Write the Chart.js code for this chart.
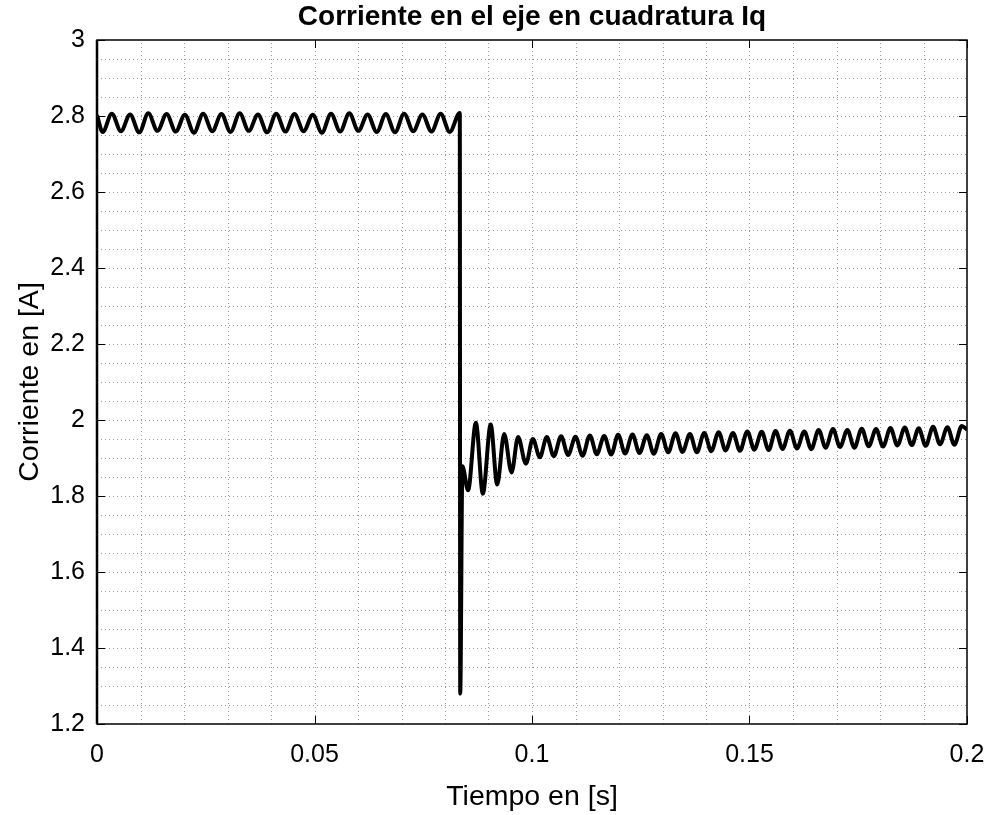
<!DOCTYPE html>
<html>
<head>
<meta charset="utf-8">
<script src="https://cdn.jsdelivr.net/npm/chart.js@4.4.0/dist/chart.umd.min.js"></script>
<style>
    body{margin:0;background:#fff;}
    #grafico{display:block;}
</style>
</head>
<body>
<canvas id="grafico" width="997" height="815"></canvas>
<script>
// régimen antes del escalón de carga
const tiempoAntes = [0, 0.0013, 0.0034, 0.0055, 0.0076, 0.0097, 0.0118, 0.0139, 0.0160, 0.0181, 0.0202,
    0.0223, 0.0244, 0.0265, 0.0286, 0.0307, 0.0328, 0.0349, 0.0370, 0.0391, 0.0412,
    0.0433, 0.0454, 0.0475, 0.0496, 0.0517, 0.0538, 0.0559, 0.0580, 0.0601, 0.0622,
    0.0643, 0.0664, 0.0685, 0.0706, 0.0727, 0.0748, 0.0769, 0.0790, 0.0811, 0.0834];
const corrienteAntes = [2.802, 2.758, 2.806, 2.760, 2.804, 2.757, 2.807, 2.761, 2.805, 2.759, 2.803,
    2.756, 2.806, 2.760, 2.805, 2.758, 2.807, 2.761, 2.804, 2.757, 2.806,
    2.759, 2.805, 2.760, 2.803, 2.756, 2.806, 2.759, 2.807, 2.761, 2.804,
    2.758, 2.805, 2.757, 2.806, 2.760, 2.804, 2.759, 2.806, 2.758, 2.808];

// caída y transitorio
const tiempoTransitorio = [0.0835, 0.0840, 0.0853, 0.0871, 0.0887, 0.0905, 0.0920, 0.0936, 0.0953, 0.0968, 0.0986, 0.1002, 0.1018];
const corrienteTransitorio = [1.28, 1.878, 1.815, 1.993, 1.806, 1.988, 1.830, 1.963, 1.862, 1.955, 1.885, 1.950, 1.902];

// nuevo régimen
const tiempoDespues = [0.1034, 0.1050, 0.1067, 0.1083, 0.1100, 0.1116, 0.1133, 0.1149, 0.1166, 0.1182,
    0.1198, 0.1214, 0.1231, 0.1247, 0.1264, 0.1280, 0.1297, 0.1313, 0.1330, 0.1346,
    0.1363, 0.1379, 0.1396, 0.1412, 0.1429, 0.1445, 0.1462, 0.1478, 0.1495, 0.1511,
    0.1528, 0.1544, 0.1560, 0.1576, 0.1593, 0.1609, 0.1626, 0.1642, 0.1659, 0.1675,
    0.1692, 0.1708, 0.1725, 0.1741, 0.1758, 0.1774, 0.1791, 0.1807, 0.1824, 0.1840,
    0.1857, 0.1873, 0.1889, 0.1905, 0.1922, 0.1938, 0.1955, 0.1971, 0.1988, 0.2000];
const corrienteDespues = [1.955, 1.905, 1.957, 1.908, 1.956, 1.906, 1.959, 1.910, 1.958, 1.909,
    1.961, 1.912, 1.962, 1.913, 1.960, 1.911, 1.963, 1.915, 1.965, 1.916,
    1.963, 1.915, 1.966, 1.918, 1.968, 1.920, 1.966, 1.919, 1.970, 1.922,
    1.969, 1.921, 1.971, 1.924, 1.972, 1.925, 1.970, 1.923, 1.974, 1.927,
    1.976, 1.929, 1.974, 1.927, 1.977, 1.931, 1.976, 1.930, 1.979, 1.933,
    1.980, 1.934, 1.978, 1.932, 1.982, 1.936, 1.981, 1.935, 1.984, 1.975];

const ticksX = [0, 0.05, 0.1, 0.15, 0.2];
const ticksY = [1.2, 1.4, 1.6, 1.8, 2, 2.2, 2.4, 2.6, 2.8, 3];

const fuente = '"Liberation Sans", Arial, Helvetica, sans-serif';

const tiempo = tiempoAntes.concat(tiempoTransitorio, tiempoDespues);
const corriente = corrienteAntes.concat(corrienteTransitorio, corrienteDespues);
const puntos = tiempo.map((t, i) => ({x: t, y: corriente[i]}));

// rejilla punteada, marco y marcas hacia dentro
const estiloMatlab = {
    id: 'estiloMatlab',
    beforeDatasetsDraw(chart){
        const {ctx, chartArea, scales} = chart;
        const {left, right, top, bottom} = chartArea;
        ctx.save();
        ctx.lineWidth = 1;
        ctx.strokeStyle = '#9a9a9a';
        ctx.setLineDash([1, 3]);
        for(let i = 1; i < 20; i++){
            const px = Math.round(scales.x.getPixelForValue(i * 0.01)) + 0.5;
            ctx.beginPath();
            ctx.moveTo(px, bottom);
            ctx.lineTo(px, top);
            ctx.stroke();
        }
        for(let i = 1; i < 36; i++){
            const py = Math.round(scales.y.getPixelForValue(1.2 + i * 0.05)) + 0.5;
            ctx.beginPath();
            ctx.moveTo(left, py);
            ctx.lineTo(right, py);
            ctx.stroke();
        }
        ctx.restore();
    },
    afterDatasetsDraw(chart){
        const {ctx, chartArea, scales} = chart;
        const {left, right, top, bottom} = chartArea;
        const largo = 8;
        ctx.save();
        ctx.strokeStyle = '#000';
        ctx.lineWidth = 1.5;
        ctx.strokeRect(left, top, right - left, bottom - top);
        ctx.lineWidth = 2.5;
        ctx.beginPath();
        ctx.moveTo(left, top);
        ctx.lineTo(left, bottom);
        ctx.stroke();
        ctx.lineWidth = 1;
        ctx.beginPath();
        ticksX.forEach(v => {
            const px = Math.round(scales.x.getPixelForValue(v)) + 0.5;
            ctx.moveTo(px, bottom);
            ctx.lineTo(px, bottom - largo);
            ctx.moveTo(px, top);
            ctx.lineTo(px, top + largo);
        });
        ticksY.forEach(v => {
            const py = Math.round(scales.y.getPixelForValue(v)) + 0.5;
            ctx.moveTo(left, py);
            ctx.lineTo(left + largo, py);
            ctx.moveTo(right, py);
            ctx.lineTo(right - largo, py);
        });
        ctx.stroke();
        ctx.restore();
    }
};

new Chart(document.getElementById('grafico'), {
    type: 'line',
    data: {
        datasets: [{
            data: puntos,
            borderColor: '#000',
            borderWidth: 4,
            pointRadius: 0,
            cubicInterpolationMode: 'monotone',
            fill: false
        }]
    },
    options: {
        responsive: false,
        animation: false,
        layout: {padding: {left: 0, right: 30, top: 0, bottom: 0}},
        plugins: {
            legend: {display: false},
            tooltip: {enabled: false},
            title: {
                display: true,
                text: 'Corriente en el eje en cuadratura Iq',
                color: '#000',
                fullSize: false,
                font: {family: fuente, size: 28, weight: 'bold'},
                padding: {top: 0, bottom: 6.4}
            }
        },
        scales: {
            x: {
                type: 'linear',
                min: 0,
                max: 0.2,
                grid: {display: false, drawTicks: false},
                border: {display: false},
                ticks: {
                    stepSize: 0.05,
                    autoSkip: false,
                    maxRotation: 0,
                    padding: 16,
                    color: '#000',
                    font: {family: fuente, size: 25},
                    callback: v => String(parseFloat(v.toFixed(2)))
                },
                title: {
                    display: true,
                    text: 'Tiempo en [s]',
                    color: '#000',
                    font: {family: fuente, size: 28.5},
                    padding: {top: 0, bottom: 1}
                },
                afterFit(scale){
                    scale.height = 91;
                    scale.paddingLeft = 0;
                    scale.paddingRight = 0;
                }
            },
            y: {
                min: 1.2,
                max: 3,
                grid: {display: false, drawTicks: false},
                border: {display: false},
                ticks: {
                    stepSize: 0.2,
                    autoSkip: false,
                    padding: 12,
                    color: '#000',
                    font: {family: fuente, size: 25},
                    callback: v => String(parseFloat(v.toFixed(1)))
                },
                title: {
                    display: true,
                    text: 'Corriente en [A]',
                    color: '#000',
                    font: {family: fuente, size: 28.5},
                    padding: {top: 13, bottom: 0}
                },
                afterFit(scale){ scale.width = 97; }
            }
        }
    },
    plugins: [estiloMatlab]
});
</script>
</body>
</html>
